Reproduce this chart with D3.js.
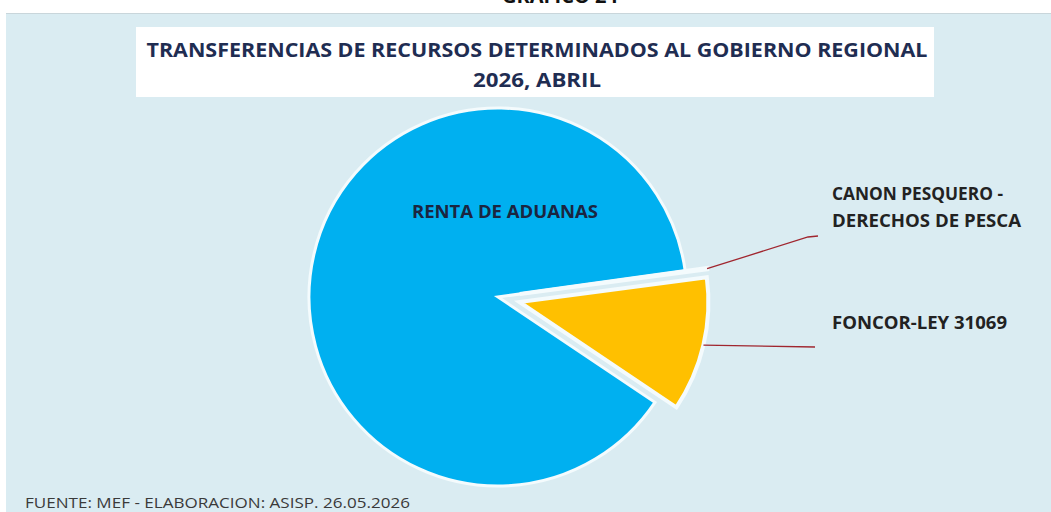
<!DOCTYPE html>
<html>
<head>
<meta charset="utf-8">
<script src="https://cdn.jsdelivr.net/npm/d3@7"></script>
<style>
  body { margin: 0; background: #ffffff; }
  svg { display: block; }
</style>
</head>
<body>
<svg id="mainSvg" width="1051" height="512"></svg>
<script>
// data (shares, %)
var categories = ["CANON PESQUERO - DERECHOS DE PESCA", "FONCOR-LEY 31069", "RENTA DE ADUANAS"];
var values = [0.1, 11.5, 88.4];
var exploded = [true, true, false];
var colors = ["#FFC000", "#FFC000", "#00B0F0"];
var titleLines = ["TRANSFERENCIAS DE RECURSOS DETERMINADOS AL GOBIERNO REGIONAL", "2026, ABRIL"];

var svg = d3.select("#mainSvg");
var font = "'Open Sans', 'DejaVu Sans', sans-serif";

// header above the panel (cut off at the top in the source too)
svg.append("text")
    .attr("x", 560)
    .attr("y", 3)
    .attr("text-anchor", "middle")
    .attr("font-family", font)
    .attr("font-weight", "bold")
    .attr("font-size", "20px")
    .attr("fill", "#111")
    .text("GRAFICO 24");

// panel background
svg.append("rect")
    .attr("x", 6).attr("y", 13)
    .attr("width", 1051).attr("height", 510)
    .attr("fill", "#DAECF2");
svg.append("line")
    .attr("x1", 6).attr("x2", 1051)
    .attr("y1", 13.5).attr("y2", 13.5)
    .attr("stroke", "#c9d6db")
    .attr("stroke-width", 1);

// title box
svg.append("rect")
    .attr("x", 136).attr("y", 27)
    .attr("width", 798).attr("height", 70)
    .attr("fill", "#ffffff");

svg.selectAll(".titleLine")
    .data(titleLines)
    .enter()
    .append("text")
    .attr("class", "titleLine")
    .attr("x", 537)
    .attr("y", function(d, i){ return 57 + i * 30; })
    .attr("text-anchor", "middle")
    .attr("font-family", font)
    .attr("font-weight", "bold")
    .attr("font-size", "19px")
    .attr("fill", "#1F2D52")
    .attr("textLength", function(d, i){ return i == 0 ? 781 : 128; })
    .attr("lengthAdjust", "spacingAndGlyphs")
    .text(function(d){ return d; });

// pie
var cx = 498, cy = 297, radius = 189, explode = 22;

var pie = d3.pie()
    .sort(null)
    .value(function(d){ return d; })
    .startAngle(82.1 * Math.PI / 180)
    .endAngle(82.1 * Math.PI / 180 + 2 * Math.PI);

var arcs = pie(values);
var arc = d3.arc().innerRadius(0).outerRadius(radius);

function offsetOf(d, i){
    if(!exploded[i]) return [0, 0];
    var mid = (d.startAngle + d.endAngle) / 2;
    return [Math.sin(mid) * explode, -Math.cos(mid) * explode];
}

var pieGroup = svg.append("g")
    .attr("transform", "translate(" + cx + "," + cy + ")");

// draw big slice first so exploded slices sit on top
var order = [2, 1, 0];
pieGroup.selectAll(".slice")
    .data(order)
    .enter()
    .append("path")
    .attr("class", "slice")
    .attr("transform", function(i){
        var o = offsetOf(arcs[i], i);
        return "translate(" + o[0] + "," + o[1] + ")";
    })
    .attr("d", function(i){ return arc(arcs[i]); })
    .attr("fill", function(i){ return colors[i]; })
    .attr("stroke", "#F4FBFD")
    .attr("stroke-width", function(i){ return exploded[i] ? 4 : 3; })
    .attr("stroke-linejoin", "miter");

// inner label for the large slice
svg.append("text")
    .attr("x", 505)
    .attr("y", 218)
    .attr("text-anchor", "middle")
    .attr("font-family", font)
    .attr("font-weight", "bold")
    .attr("font-size", "17px")
    .attr("fill", "#1b2540")
    .attr("textLength", 186)
    .attr("lengthAdjust", "spacingAndGlyphs")
    .text(categories[2]);

// outer labels with leader lines
var outerLabels = [
    { idx: 0, lines: ["CANON PESQUERO -", "DERECHOS DE PESCA"], widths: [171, 189], elbow: [808, 237], end: [818, 236], tx: 832, ty: 200 },
    { idx: 1, lines: ["FONCOR-LEY 31069"], widths: [175], elbow: [815, 347], end: [815, 347], tx: 832, ty: 329 }
];

var leaderArc = d3.arc().innerRadius(radius).outerRadius(radius);

outerLabels.forEach(function(l){
    var d = arcs[l.idx];
    var o = offsetOf(d, l.idx);
    var c = leaderArc.centroid(d);
    var sx = cx + o[0] + c[0], sy = cy + o[1] + c[1];

    svg.append("polyline")
        .attr("points", [[sx, sy], l.elbow, l.end].map(function(p){ return p.join(","); }).join(" "))
        .attr("fill", "none")
        .attr("stroke", "#A0262F")
        .attr("stroke-width", 1.3);

    svg.selectAll(null)
        .data(l.lines)
        .enter()
        .append("text")
        .attr("x", l.tx)
        .attr("y", function(t, i){ return l.ty + i * 27; })
        .attr("font-family", font)
        .attr("font-weight", "bold")
        .attr("font-size", "17px")
        .attr("fill", "#222")
        .attr("textLength", function(t, i){ return l.widths[i]; })
        .attr("lengthAdjust", "spacingAndGlyphs")
        .text(function(t){ return t; });
});

// footer
svg.append("text")
    .attr("x", 25)
    .attr("y", 508)
    .attr("font-family", font)
    .attr("font-size", "14px")
    .attr("fill", "#3a3a3a")
    .attr("textLength", 385)
    .attr("lengthAdjust", "spacingAndGlyphs")
    .text("FUENTE: MEF - ELABORACION: ASISP. 26.05.2026");
</script>
</body>
</html>
